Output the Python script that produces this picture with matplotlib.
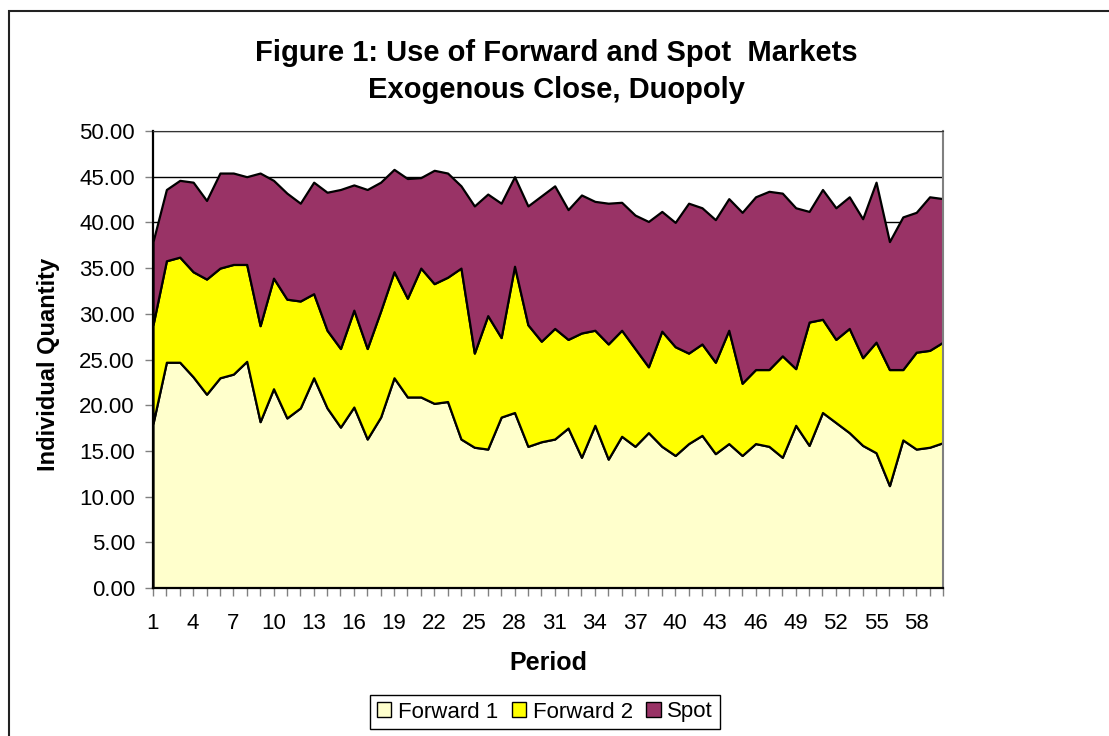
import matplotlib
matplotlib.use('Agg')
import matplotlib.pyplot as plt
from matplotlib.patches import Patch, Rectangle

plt.rcParams['font.family'] = ['Liberation Sans', 'DejaVu Sans']

# data (60 periods)
periods = list(range(1, 61))

forward1 = [18.0, 24.7, 24.7, 23.1, 21.2, 23.0, 23.4, 24.8, 18.2, 21.8,
            18.6, 19.7, 23.0, 19.7, 17.6, 19.8, 16.3, 18.7, 23.0, 20.9,
            20.9, 20.2, 20.4, 16.3, 15.4, 15.2, 18.7, 19.2, 15.5, 16.0,
            16.3, 17.5, 14.3, 17.8, 14.1, 16.6, 15.5, 17.0, 15.5, 14.5,
            15.8, 16.7, 14.7, 15.8, 14.5, 15.8, 15.5, 14.3, 17.8, 15.6,
            19.2, 18.1, 17.0, 15.6, 14.8, 11.2, 16.2, 15.2, 15.4, 15.9]

forward2 = [10.8, 11.1, 11.5, 11.5, 12.6, 12.0, 12.0, 10.6, 10.5, 12.1,
            13.0, 11.7, 9.2, 8.5, 8.6, 10.6, 9.9, 11.6, 11.6, 10.8,
            14.1, 13.1, 13.6, 18.7, 10.3, 14.6, 8.7, 16.0, 13.3, 11.0,
            12.1, 9.7, 13.6, 10.4, 12.6, 11.6, 10.7, 7.2, 12.6, 11.9,
            9.9, 10.0, 10.0, 12.4, 7.9, 8.1, 8.4, 11.1, 6.2, 13.5,
            10.2, 9.1, 11.4, 9.6, 12.1, 12.7, 7.7, 10.6, 10.6, 11.0]

spot = [9.1, 7.8, 8.4, 9.8, 8.6, 10.4, 10.0, 9.6, 16.7, 10.7,
        11.6, 10.7, 12.2, 15.1, 17.4, 13.7, 17.4, 14.1, 11.2, 13.1,
        9.9, 12.4, 11.4, 9.0, 16.1, 13.3, 14.7, 9.8, 13.0, 15.9,
        15.6, 14.2, 15.1, 14.1, 15.4, 14.0, 14.6, 15.9, 13.1, 13.6,
        16.4, 14.9, 15.6, 14.4, 18.7, 18.9, 19.5, 17.8, 17.6, 12.1,
        14.2, 14.4, 14.4, 15.2, 17.5, 14.0, 16.7, 15.3, 16.8, 15.7]

series_names = ['Forward 1', 'Forward 2', 'Spot']
colors = ['#FFFFCC', '#FFFF00', '#993366']

fig = plt.figure(figsize=(11.09, 7.36), dpi=100)
ax = fig.add_axes([153 / 1109, 1 - 588 / 736, 790 / 1109, 457 / 736])

# gridlines behind the areas
ax.set_axisbelow(True)
ax.yaxis.grid(True, color='black', linewidth=1.0)

ax.stackplot(periods, forward1, forward2, spot, colors=colors,
             edgecolor='black', linewidth=1.6, zorder=2)

ax.set_xlim(1, 60)
ax.set_ylim(0, 50)
ax.set_yticks(range(0, 51, 5))
ax.set_yticklabels([f'{v:.2f}' for v in range(0, 51, 5)])
ax.set_xticks(periods)
ax.set_xticklabels([str(p) if (p - 1) % 3 == 0 else '' for p in periods])

ax.tick_params(axis='y', direction='out', length=6, width=1, color='#808080',
               labelsize=16, pad=7)
ax.tick_params(axis='x', direction='out', length=6, width=1, color='#808080',
               labelsize=16, pad=12)

for side in ['left', 'bottom']:
    ax.spines[side].set_color('black')
    ax.spines[side].set_linewidth(1.6)
ax.spines['top'].set_color('#333333')
ax.spines['right'].set_color('#808080')
ax.spines['right'].set_linewidth(1.5)

ax.set_ylabel('Individual Quantity', fontsize=17, fontweight='bold')
ax.yaxis.set_label_coords(-0.132, 0.49)
ax.yaxis.label.set_va('center')
ax.set_xlabel('Period', fontsize=18, fontweight='bold')
ax.xaxis.set_label_coords(0.5, -0.164)
ax.xaxis.label.set_va('center')

fig.text(0.5014, 1 - 71.5 / 736,
         'Figure 1: Use of Forward and Spot  Markets\nExogenous Close, Duopoly',
         ha='center', va='center', fontsize=21, fontweight='bold', linespacing=1.45)

# outer chart border
fig.patches.append(Rectangle((9 / 1109, -0.05), 1.2, 1.05 - 10.5 / 736,
                             transform=fig.transFigure, fill=False,
                             edgecolor='#222222', linewidth=1.5))

handles = [Patch(facecolor=c, edgecolor='black', linewidth=1) for c in colors]
fig.legend(handles, series_names, loc='center', bbox_to_anchor=(545 / 1109, 1 - 712 / 736),
           ncol=3, fontsize=16, frameon=True, fancybox=False, edgecolor='black',
           framealpha=1, handlelength=0.65, handleheight=0.65, handletextpad=0.3,
           columnspacing=0.6, borderpad=0.3, borderaxespad=0)

fig.savefig('out.png', dpi=100)
